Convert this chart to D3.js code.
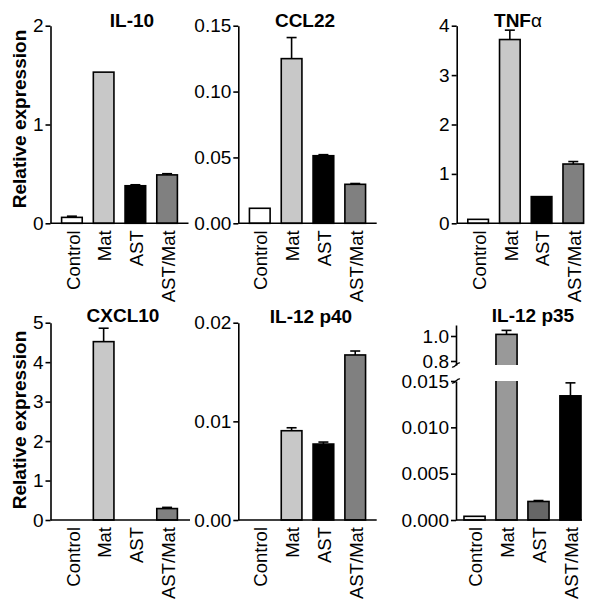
<!DOCTYPE html>
<html><head><meta charset="utf-8">
<script src="https://cdn.jsdelivr.net/npm/d3@7"></script>
<style>
body{margin:0;background:#fff;}
svg{display:block;font-family:"Liberation Sans",Arial,sans-serif;}
</style></head>
<body><svg id="c" width="600" height="604"></svg>
<script>
// ---- data ----
const categories = ["Control","Mat","AST","AST/Mat"];
const il10 = [0.06, 1.53, 0.38, 0.49];
const il10Err = [0.012, 0, 0.01, 0.012];
const ccl22 = [0.0114, 0.125, 0.0513, 0.0296];
const ccl22Err = [0, 0.016, 0.0008, 0.0006];
const tnfa = [0.08, 3.72, 0.54, 1.20];
const tnfaErr = [0, 0.19, 0, 0.05];
const cxcl10 = [0, 4.52, 0, 0.29];
const cxcl10Err = [0, 0.34, 0, 0.03];
const p40 = [0, 0.00905, 0.0077, 0.01673];
const p40Err = [0, 0.0003, 0.0002, 0.0004];
const p35 = [0.0004, 1.013, 0.002, 0.0134];
const p35Err = [0, 0.032, 0.0001, 0.0014];
const ticksIL10 = [0, 1, 2];
const ticksCCL22 = [0, 0.05, 0.10, 0.15];
const ticksTNF = [0, 1, 2, 3, 4];
const ticksCXCL10 = [0, 1, 2, 3, 4, 5];
const ticksP40 = [0, 0.01, 0.02];
const ticksP35Low = [0, 0.005, 0.010, 0.015];
const ticksP35High = [0.8, 1.0];
const fillsA = ["#ffffff", "#c8c8c8", "#000000", "#808080"];
const fillsB = ["#f2f2f2", "#999999", "#666666", "#000000"];

const svg = d3.select("#c");
const SW = 1.6;

function drawAxisY(g, scale, ticks, fmt, x) {
  const ax = g.append("g").attr("transform", `translate(${x},0)`)
    .call(d3.axisLeft(scale).tickValues(ticks).tickFormat(fmt).tickSize(5).tickSizeOuter(0).tickPadding(2));
  ax.attr("font-family", null).attr("font-size", null);
  ax.select(".domain").attr("stroke", "#000").attr("stroke-width", SW);
  ax.selectAll(".tick line").attr("stroke", "#000").attr("stroke-width", SW);
  ax.selectAll(".tick text").attr("fill", "#000").style("font-size", "19px");
  return ax;
}

function panel(opt) {
  const g = svg.append("g");
  const x = d3.scaleBand().domain(categories).range(opt.band).paddingInner(opt.pi).paddingOuter(opt.po);
  const y = d3.scaleLinear().domain(opt.domain).range([opt.y0, opt.yTop]);
  g.selectAll("rect.bar").data(opt.values).join("rect")
    .attr("x", (d, i) => x(categories[i]))
    .attr("width", x.bandwidth())
    .attr("y", d => y(d))
    .attr("height", d => y(0) - y(d))
    .attr("fill", (d, i) => opt.fills[i])
    .attr("stroke", "#000").attr("stroke-width", d => d > 0 ? SW : 0);
  opt.values.forEach((v, i) => {
    const e = opt.errs[i];
    if (!(e > 0)) return;
    const cx = x(categories[i]) + x.bandwidth() / 2;
    g.append("line").attr("x1", cx).attr("x2", cx).attr("y1", y(v)).attr("y2", y(v + e))
      .attr("stroke", "#000").attr("stroke-width", SW);
    g.append("line").attr("x1", cx - 5).attr("x2", cx + 5).attr("y1", y(v + e)).attr("y2", y(v + e))
      .attr("stroke", "#000").attr("stroke-width", SW);
  });
  drawAxisY(g, y, opt.ticks, opt.fmt, opt.axisX);
  g.append("line").attr("x1", opt.axisX).attr("x2", opt.axisEnd).attr("y1", y(0)).attr("y2", y(0))
    .attr("stroke", "#000").attr("stroke-width", SW);
  xLabels(g, x, opt.y0);
  title(g, opt.title, opt.tx, opt.ty);
}

function xLabels(g, x, y0) {
  g.selectAll("text.xl").data(categories).join("text")
    .attr("class", "xl")
    .attr("transform", d => `translate(${x(d) + x.bandwidth() / 2 + 1},${y0 + 7}) rotate(-90)`)
    .attr("text-anchor", "end").attr("dy", "0.36em")
    .style("font-size", "18.5px").text(d => d);
}

function title(g, t, tx, ty) {
  const txt = g.append("text").attr("x", tx).attr("y", ty).attr("text-anchor", "middle")
    .style("font-size", "19px").style("font-weight", "bold");
  if (t === "TNFα") {
    txt.append("tspan").text("TNF");
    txt.append("tspan").style("font-weight", "normal").text("α");
  } else txt.text(t);
}

const f0 = d3.format(".0f"), f1 = d3.format(".1f"), f2 = d3.format(".2f"), f3 = d3.format(".3f");

panel({values: il10, errs: il10Err, fills: fillsA, domain: [0, 2], ticks: ticksIL10, fmt: f0,
  axisX: 50.5, axisEnd: 188.5, band: [50.5, 188.5], pi: 0.35, po: 0.35, y0: 223.3, yTop: 25.7,
  title: "IL-10", tx: 132, ty: 27});
panel({values: ccl22, errs: ccl22Err, fills: fillsA, domain: [0, 0.15], ticks: ticksCCL22, fmt: f2,
  axisX: 238.3, axisEnd: 376.7, band: [238.3, 376.7], pi: 0.35, po: 0.35, y0: 223.3, yTop: 25.7,
  title: "CCL22", tx: 305, ty: 27});
panel({values: tnfa, errs: tnfaErr, fills: fillsA, domain: [0, 4], ticks: ticksTNF, fmt: f0,
  axisX: 456.7, axisEnd: 583.5, band: [456.7, 594.7], pi: 0.35, po: 0.35, y0: 223.3, yTop: 25.7,
  title: "TNFα", tx: 518, ty: 27});
panel({values: cxcl10, errs: cxcl10Err, fills: fillsA, domain: [0, 5], ticks: ticksCXCL10, fmt: f0,
  axisX: 50.5, axisEnd: 190, band: [50.5, 188.5], pi: 0.35, po: 0.35, y0: 520, yTop: 322.7,
  title: "CXCL10", tx: 123, ty: 322});
panel({values: p40, errs: p40Err, fills: fillsA, domain: [0, 0.02], ticks: ticksP40, fmt: f2,
  axisX: 238.3, axisEnd: 376.7, band: [238.3, 376.7], pi: 0.35, po: 0.35, y0: 520, yTop: 322.7,
  title: "IL-12 p40", tx: 311, ty: 323});

// ---- IL-12 p35 with broken axis ----
(function () {
  const g = svg.append("g");
  const axisX = 456, axisEnd = 582;
  const x = d3.scaleBand().domain(categories).range([456, 589]).paddingInner(0.34).paddingOuter(0.25);
  const yLow = d3.scaleLinear().domain([0, 0.015]).range([520, 381]);
  const yHigh = d3.scaleLinear().domain([0.768, 1.088]).range([365, 325]);
  const yv = v => v > 0.015 ? yHigh(v) : yLow(v);
  g.selectAll("rect.bar").data(p35).join("rect")
    .attr("x", (d, i) => x(categories[i]))
    .attr("width", x.bandwidth())
    .attr("y", d => yv(d))
    .attr("height", d => yLow(0) - yv(d))
    .attr("fill", (d, i) => fillsB[i])
    .attr("stroke", "#000").attr("stroke-width", SW);
  p35.forEach((v, i) => {
    if (v > 0.015) {
      g.append("rect").attr("x", x(categories[i]) - 2).attr("width", x.bandwidth() + 4)
        .attr("y", yHigh(0.768)).attr("height", yLow(0.015) - yHigh(0.768)).attr("fill", "#fff");
    }
  });
  p35.forEach((v, i) => {
    const e = p35Err[i];
    if (!(e > 0)) return;
    const cx = x(categories[i]) + x.bandwidth() / 2;
    g.append("line").attr("x1", cx).attr("x2", cx).attr("y1", yv(v)).attr("y2", yv(v + e))
      .attr("stroke", "#000").attr("stroke-width", SW);
    g.append("line").attr("x1", cx - 5).attr("x2", cx + 5).attr("y1", yv(v + e)).attr("y2", yv(v + e))
      .attr("stroke", "#000").attr("stroke-width", SW);
  });
  drawAxisY(g, yLow, ticksP35Low, f3, axisX);
  drawAxisY(g, yHigh, ticksP35High, f1, axisX);
  const brk = yy => `M${axisX - 4},${yy + 2} C${axisX - 1},${yy + 3} ${axisX + 1},${yy - 3} ${axisX + 4},${yy - 2}`;
  [yHigh(0.768), yLow(0.015)].forEach(yy => {
    g.append("path").attr("d", brk(yy)).attr("fill", "none").attr("stroke", "#000").attr("stroke-width", 1.3);
  });
  g.append("line").attr("x1", axisX).attr("x2", axisEnd).attr("y1", yLow(0)).attr("y2", yLow(0))
    .attr("stroke", "#000").attr("stroke-width", SW);
  xLabels(g, x, 520);
  title(g, "IL-12 p35", 533, 322);
})();

[119, 420].forEach(cy => {
  svg.append("text").attr("transform", `translate(26,${cy}) rotate(-90)`)
    .attr("text-anchor", "middle").style("font-size", "19px").style("font-weight", "bold")
    .text("Relative expression");
});
</script></body></html>
